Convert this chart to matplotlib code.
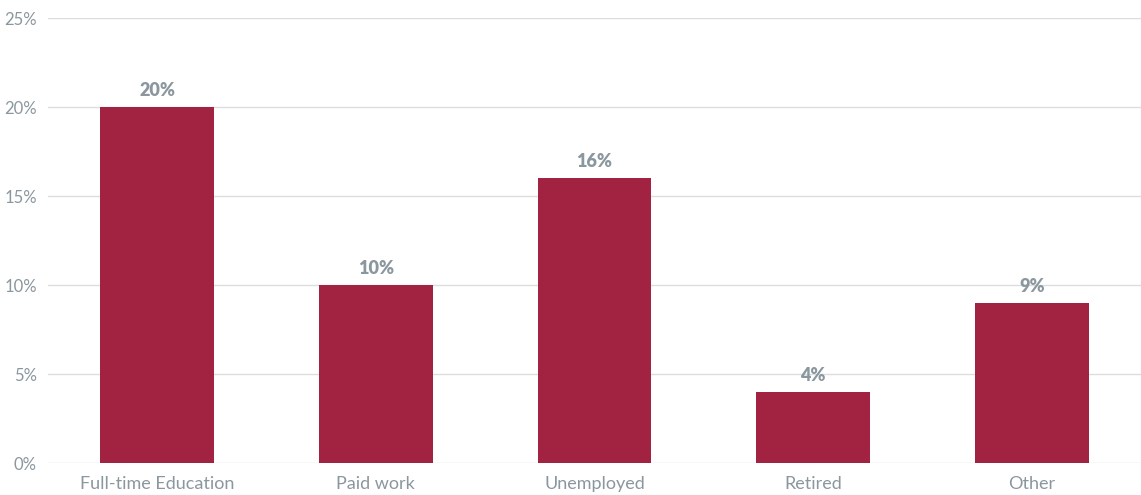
import matplotlib.pyplot as plt
from matplotlib.ticker import FuncFormatter

categories = ["Full-time Education", "Paid work", "Unemployed", "Retired", "Other"]
values = [20, 10, 16, 4, 9]
yticks = [0, 5, 10, 15, 20, 25]

bar_color = "#a12241"
text_color = "#8a979e"

plt.rcParams["font.family"] = ["Lato", "DejaVu Sans"]

fig = plt.figure(figsize=(11.41, 4.95), dpi=100)
ax = fig.add_axes([0.042, 0.0646, 0.958, 0.899])

x = range(len(categories))
bars = ax.bar(x, values, width=0.52, color=bar_color, zorder=3)
for xi, v in zip(x, values):
    ax.text(xi, v + 0.45, f"{v}%", ha="center", va="bottom",
            fontsize=13, fontweight="heavy", color=text_color)

ax.set_xlim(-0.5, len(categories) - 0.5)
ax.set_ylim(0, 25)
ax.set_yticks(yticks)
ax.yaxis.set_major_formatter(FuncFormatter(lambda v, p: f"{int(v)}%"))
ax.set_xticks(list(x))
ax.set_xticklabels(categories)
ax.grid(axis="y", color="#dddddd", linewidth=1, zorder=0)
ax.tick_params(axis="y", length=0, labelsize=12, colors=text_color, pad=8)
ax.tick_params(axis="x", length=0, labelsize=13, colors=text_color, pad=9)
for s in ax.spines.values():
    s.set_visible(False)

fig.savefig("out.png", dpi=100)
